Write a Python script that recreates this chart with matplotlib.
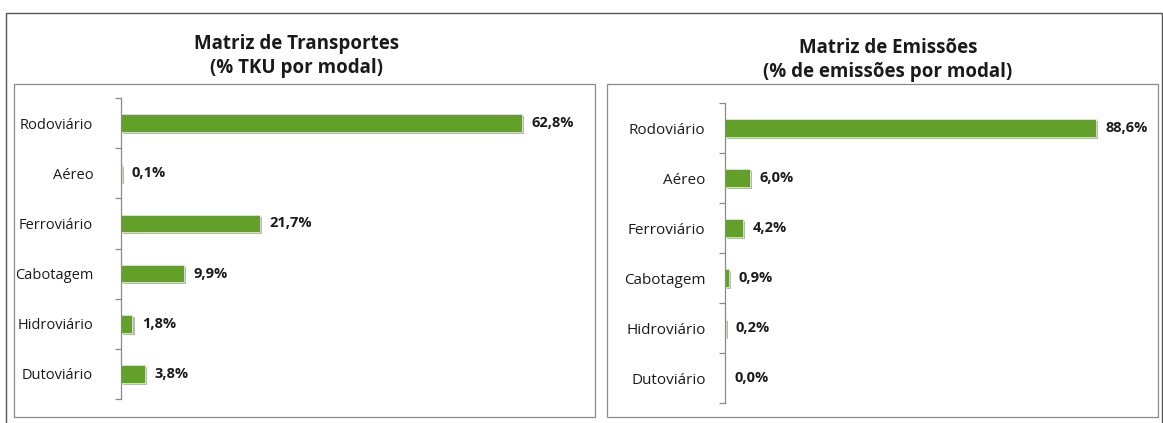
import matplotlib
matplotlib.use('Agg')
import matplotlib.pyplot as plt
import matplotlib.patheffects as pe
from matplotlib.patches import Rectangle

modais = ['Rodoviário', 'Aéreo', 'Ferroviário', 'Cabotagem', 'Hidroviário', 'Dutoviário']
tku = [62.8, 0.1, 21.7, 9.9, 1.8, 3.8]
emissoes = [88.6, 6.0, 4.2, 0.9, 0.2, 0.0]
titulo_tku = 'Matriz de Transportes\n(% TKU por modal)'
titulo_emi = 'Matriz de Emissões\n(% de emissões por modal)'

plt.rcParams['font.family'] = ['Open Sans', 'DejaVu Sans']
green = '#62a02a'

fig = plt.figure(figsize=(11.63, 4.23), dpi=100)
W, H = 1163.0, 423.0

# frames (pixel coords from top-left -> figure fraction)
def box(x0, y0, x1, y1, color, lw):
    fig.patches.append(Rectangle((x0 / W, 1 - y1 / H), (x1 - x0) / W, (y1 - y0) / H,
                                 transform=fig.transFigure, fill=False,
                                 edgecolor=color, linewidth=lw))

box(6, 13, 1162, 440, '#555555', 1.0)
box(14, 84, 595, 417, '#8a8a8a', 0.9)
box(607, 84, 1158, 417, '#8a8a8a', 0.9)

fig.text(297 / W, 1 - 56 / H, titulo_tku, ha='center', va='center',
         fontsize=13.5, fontweight='bold', linespacing=1.25, color='#1a1a1a')
fig.text(888 / W, 1 - 60 / H, titulo_emi, ha='center', va='center',
         fontsize=13.5, fontweight='bold', linespacing=1.25, color='#1a1a1a')


def panel(rect, values, xmax, pad, fs):
    ax = fig.add_axes(rect)
    y = range(len(modais))
    bars = ax.barh(y, values, height=0.35, color=green, edgecolor='#dfe8d5',
                   linewidth=0.6)
    for b in bars:
        b.set_path_effects([pe.SimplePatchShadow(offset=(1.5, -1.5),
                                                 shadow_rgbFace='#888888', alpha=0.6),
                            pe.Normal()])
    for yi, v in zip(y, values):
        ax.annotate(f'{v:.1f}%'.replace('.', ','), (v, yi), xytext=(7, 0),
                    textcoords='offset points', va='center', ha='left',
                    fontsize=10.5, fontweight='bold', color='#1a1a1a')
    ax.set_xlim(0, xmax)
    ax.set_ylim(5.5, -0.5)
    ax.set_yticks(list(y))
    ax.set_yticklabels(modais, fontsize=fs, color='#1a1a1a')
    ax.set_yticks([i - 0.5 for i in range(len(modais) + 1)], minor=True)
    ax.tick_params(axis='y', which='major', length=0, pad=pad)
    ax.tick_params(axis='y', which='minor', length=4, width=0.9, color='#8a8a8a',
                   direction='out')
    ax.set_xticks([])
    for s in ['top', 'right', 'bottom']:
        ax.spines[s].set_visible(False)
    ax.spines['left'].set_color('#8a8a8a')
    ax.spines['left'].set_linewidth(0.9)
    ax.patch.set_alpha(0)
    return ax


panel([121 / W, 24 / H, 447 / W, 301 / H], tku, 70, 20, 10.5)
panel([725 / W, 20 / H, 431 / W, 300 / H], emissoes, 103, 14, 11)

fig.savefig('out.png', dpi=100, facecolor='white')
